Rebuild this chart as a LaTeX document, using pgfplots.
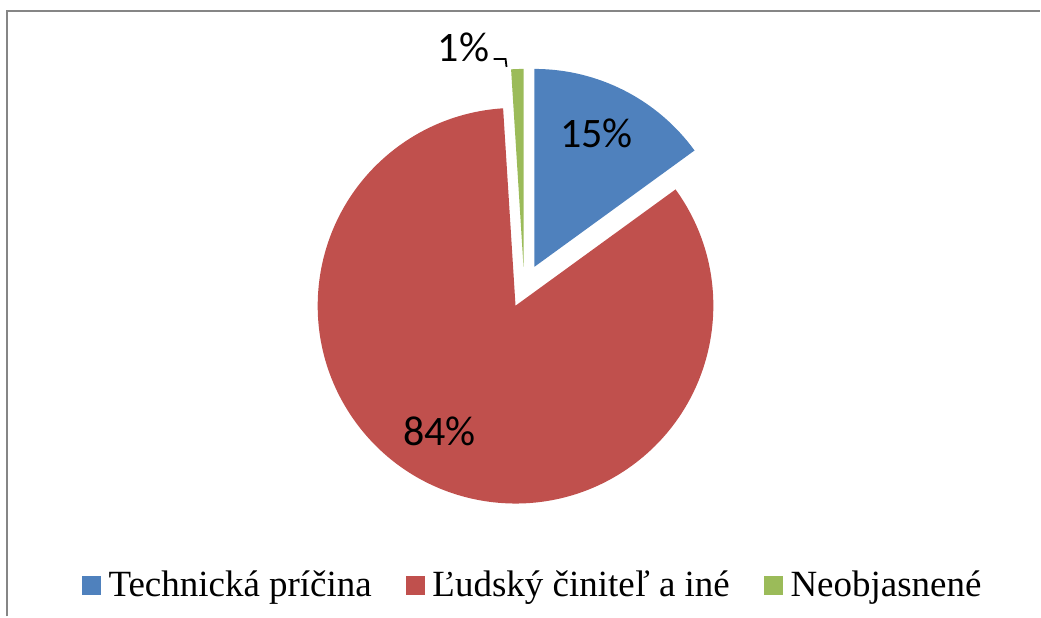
\documentclass[border=0pt]{standalone}
\usepackage{fontspec}
\setmainfont{Liberation Serif}
\newfontfamily\calibri{Carlito}
\usepackage{pgfplots}
\pgfplotsset{compat=1.18}

\definecolor{pieblue}{HTML}{4F81BD}
\definecolor{piered}{HTML}{C0504D}
\definecolor{piegreen}{HTML}{9BBB59}
\definecolor{frame}{HTML}{868686}

% shares in percent
\def\pA{15}  % Technicka pricina
\def\pB{84}  % Ludsky cinitel a ine
\def\pC{1}   % Neobjasnene
\pgfmathsetmacro\aA{90-3.6*\pA}
\pgfmathsetmacro\aB{\aA-3.6*\pB}
\pgfmathsetmacro\aC{\aB-3.6*\pC}
\def\rad{99pt}

\pgfplotsset{
  sq legend/.style={legend image code/.code={
      \fill[##1] (0pt,-4.5pt) rectangle (9pt,4.5pt);}},
}

\begin{document}
\begin{tikzpicture}
\begin{axis}[
    width=520.5pt, height=308.5pt,
    scale only axis,
    xmin=0, xmax=1041, ymin=0, ymax=617,
    hide axis, clip=false,
    legend columns=3,
    legend style={draw=none, fill=none, at={(0.515,0.05)}, anchor=center,
        font=\fontsize{18.5}{21}\selectfont,
        /tikz/every even column/.append style={column sep=13pt},
        nodes={inner xsep=4pt},
        inner sep=0pt},
]
% chart frame (cut off at right and bottom)
\draw[frame, line width=1pt] (axis cs:7.5,0) -- (axis cs:7.5,605.5) -- (axis cs:1041,605.5);

% slices
\fill[pieblue] (axis cs:535,350) -- ++(90:\rad) arc[start angle=90, end angle=\aA, radius=\rad] -- cycle;
\fill[piered] (axis cs:516,311) -- ++(\aA:\rad) arc[start angle=\aA, end angle=\aB, radius=\rad] -- cycle;
\fill[piegreen] (axis cs:524,350) -- ++(\aB:\rad) arc[start angle=\aB, end angle=\aC, radius=\rad] -- cycle;

% data labels
\node[font=\calibri\fontsize{21}{23}\selectfont] at (axis cs:597,484) {15\%};
\node[font=\calibri\fontsize{21}{23}\selectfont] at (axis cs:440,185) {84\%};
\node[font=\calibri\fontsize{21}{23}\selectfont] at (axis cs:464,570) {1\%};
\draw[black, line width=0.9pt] (axis cs:494,558) -- (axis cs:506,558) -- (axis cs:507,550);

\addlegendimage{sq legend, pieblue}
\addlegendentry{Technická príčina}
\addlegendimage{sq legend, piered}
\addlegendentry{Ľudský činiteľ a iné}
\addlegendimage{sq legend, piegreen}
\addlegendentry{Neobjasnené}
\end{axis}
\useasboundingbox (0,0) rectangle (520.5pt,308.5pt);
\end{tikzpicture}
\end{document}
